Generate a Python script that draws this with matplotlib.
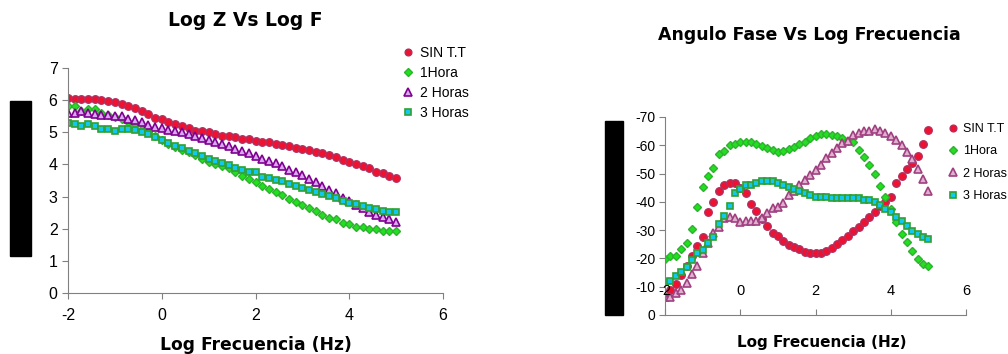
import numpy as np
import matplotlib.pyplot as plt
from matplotlib.patches import Rectangle

plt.rcParams['axes.unicode_minus'] = False
plt.rcParams['font.family'] = ['Liberation Sans', 'DejaVu Sans']

# ---- data ----
log_f = np.arange(50) / 7.0 - 2.0   # 7 points per decade, -2 .. 5

series_names = ['SIN T.T', '1Hora', '2 Horas', '3 Horas']

log_z_sin = [6.07, 6.03, 6.03, 6.03, 6.03, 6.0, 5.97, 5.93, 5.87, 5.82,
             5.75, 5.66, 5.56, 5.45, 5.4, 5.33, 5.26, 5.2, 5.12, 5.05,
             5.05, 5.0, 4.94, 4.9, 4.88, 4.84, 4.8, 4.8, 4.74, 4.7,
             4.7, 4.64, 4.6, 4.57, 4.52, 4.48, 4.44, 4.4, 4.35, 4.3,
             4.24, 4.14, 4.09, 4.02, 3.95, 3.88, 3.77, 3.72, 3.64, 3.57]
log_z_1h = [5.82, 5.82, 5.65, 5.72, 5.72, 5.6, 5.55, 5.48, 5.42, 5.33,
            5.25, 5.1, 5.0, 4.88, 4.76, 4.64, 4.55, 4.46, 4.38, 4.28,
            4.18, 4.08, 4.0, 3.95, 3.88, 3.77, 3.65, 3.55, 3.45, 3.33,
            3.23, 3.15, 3.05, 2.91, 2.84, 2.74, 2.64, 2.55, 2.43, 2.33,
            2.3, 2.19, 2.15, 2.06, 2.04, 1.99, 1.98, 1.93, 1.94, 1.93]
log_z_2h = [5.61, 5.61, 5.66, 5.61, 5.58, 5.55, 5.55, 5.52, 5.52, 5.4,
            5.37, 5.33, 5.23, 5.18, 5.12, 5.07, 5.05, 5.02, 4.94, 4.88,
            4.81, 4.76, 4.69, 4.64, 4.58, 4.48, 4.42, 4.37, 4.26, 4.16,
            4.11, 4.03, 3.95, 3.83, 3.75, 3.67, 3.56, 3.46, 3.33, 3.21,
            3.1, 2.95, 2.85, 2.74, 2.64, 2.53, 2.43, 2.37, 2.29, 2.22]
log_z_3h = [5.3, 5.25, 5.2, 5.25, 5.2, 5.09, 5.09, 5.04, 5.09, 5.09,
            5.07, 5.0, 4.95, 4.84, 4.76, 4.66, 4.58, 4.5, 4.43, 4.35,
            4.25, 4.18, 4.12, 4.03, 3.98, 3.88, 3.83, 3.76, 3.75, 3.62,
            3.57, 3.52, 3.48, 3.38, 3.33, 3.26, 3.2, 3.15, 3.08, 3.03,
            2.95, 2.87, 2.81, 2.77, 2.71, 2.66, 2.6, 2.56, 2.53, 2.53]

fase_sin = [-6.5, -9, -11, -14, -17.5, -21, -24.4, -27.5, -36.4, -40.1,
            -43.7, -46, -46.8, -46.8, -45, -43, -39.2, -36.8, -34, -31.6,
            -29.1, -27.9, -26.3, -24.9, -23.9, -23.2, -22.4, -22, -22, -22,
            -22.5, -23.6, -25.1, -26.5, -27.9, -29.8, -31, -32.8, -34.5, -36.5,
            -38.5, -40, -41.8, -46.8, -49.1, -51.5, -53.6, -56.3, -60.4, -65.4]
fase_1h = [-19.7, -21, -21, -23.2, -25.3, -30.3, -38.3, -45.1, -49.1, -51.8,
           -56.8, -58.1, -60, -60.6, -61, -61, -61, -60.3, -59.7, -59.2,
           -58.5, -57.7, -57.9, -58.6, -59.3, -60.3, -61.3, -62.5, -63.4, -64,
           -64, -63.6, -63.3, -62.5, -61.5, -61, -58.3, -56, -53, -50,
           -45.7, -41.6, -37.5, -33, -28.6, -25.7, -22.7, -19.8, -18, -17.3]
fase_2h = [-6.2, -6.5, -7.9, -8.8, -11.2, -14.4, -17.3, -21.8, -25.5, -28.9,
           -31, -34.2, -34.8, -34.2, -33, -33.3, -33.3, -33.3, -34.2, -35.9,
           -37.7, -38.3, -39.7, -42.4, -43.8, -46, -47.7, -49.5, -51.3, -53,
           -55.4, -57.2, -58.9, -60.7, -61.5, -63.6, -64.4, -65, -65, -65.6,
           -65.1, -64.4, -63.3, -61.9, -60.1, -57.5, -55, -51.5, -48, -43.8]
fase_3h = [-11.5, -12, -13.8, -15.3, -17.1, -19.4, -21.8, -23, -25.3, -27.5,
           -32.2, -35, -38.6, -43, -44.5, -46, -46, -46.6, -47.4, -47.4,
           -47.4, -46.8, -46, -45.1, -44.4, -44, -43.2, -42.4, -41.8, -41.8,
           -41.6, -41.2, -41.2, -41.4, -41.2, -41.2, -41.2, -40.6, -40.6, -40,
           -38.9, -37.5, -36.3, -34.5, -33.2, -31.5, -29.7, -28.5, -27.5, -26.8]

x_ticks = [-2, 0, 2, 4, 6]
z_ticks = [0, 1, 2, 3, 4, 5, 6, 7]
fase_ticks = [0, -10, -20, -30, -40, -50, -60, -70]

# ---- styles ----
left_styles = [
    dict(marker='o', ms=5.4, mfc='#f01030', mec='#b03060', mew=1.0),
    dict(marker='D', ms=4.5, mfc='#20e020', mec='#30b030', mew=1.0),
    dict(marker='^', ms=5.8, mfc='#d8a8f0', mec='#800090', mew=1.2),
    dict(marker='s', ms=4.8, mfc='#10c8f0', mec='#30a030', mew=1.2),
]
right_styles = [
    dict(marker='o', ms=5.4, mfc='#f01030', mec='#b03060', mew=1.0),
    dict(marker='D', ms=4.5, mfc='#20e020', mec='#30b030', mew=1.0),
    dict(marker='^', ms=5.8, mfc='#e0b0d0', mec='#a04080', mew=1.2),
    dict(marker='s', ms=4.8, mfc='#10c8f0', mec='#30a030', mew=1.2),
]

fig = plt.figure(figsize=(10.08, 3.54), dpi=100)

# ============================================================
# Left panel: Log Z vs Log F
# ============================================================
ax1 = fig.add_axes([68 / 1008, 1 - 293 / 354, 375 / 1008, 225 / 354])
for vals, name, st in zip([log_z_sin, log_z_1h, log_z_2h, log_z_3h],
                          series_names, left_styles):
    ax1.plot(log_f, vals, ls='none', label=name, **st)
ax1.set_xlim(-2, 6)
ax1.set_ylim(0, 7)
ax1.set_xticks(x_ticks)
ax1.set_yticks(z_ticks)
ax1.tick_params(labelsize=11.5, length=4, color='#808080')
ax1.tick_params(axis='x', pad=7)
for s in ['top', 'right']:
    ax1.spines[s].set_visible(False)
for s in ['left', 'bottom']:
    ax1.spines[s].set_color('#808080')
ax1.set_xlabel('Log Frecuencia (Hz)', fontsize=12.3, fontweight='bold',
               family='DejaVu Sans', labelpad=9)
ax1.legend(loc='upper left', bbox_to_anchor=(395 / 1008, 1 - 39 / 354),
           bbox_transform=fig.transFigure, frameon=False, fontsize=10,
           handlelength=0.8, handletextpad=0.5, labelspacing=0.44,
           borderpad=0, markerscale=0.9)
fig.text(245 / 1008, 1 - 20 / 354, 'Log Z Vs Log F', ha='center', va='center',
         fontsize=13.5, fontweight='bold', family='DejaVu Sans')

# ============================================================
# Right panel: phase angle vs Log F
# ============================================================
ax2 = fig.add_axes([665 / 1008, 1 - 315 / 354, 301 / 1008, 198 / 354])
for vals, name, st in zip([fase_sin, fase_1h, fase_2h, fase_3h],
                          series_names, right_styles):
    ax2.plot(log_f, vals, ls='none', label=name, **st)
ax2.set_xlim(-2, 6)
ax2.set_ylim(0, -70)
ax2.set_xticks(x_ticks)
ax2.set_yticks(fase_ticks)
ax2.tick_params(axis='y', labelsize=10, length=4, color='#808080', pad=3)
ax2.tick_params(axis='x', labelsize=10.5, length=4, color='#808080',
                direction='in', pad=-22)
ax2.xaxis.set_zorder(5)
for s in ['top', 'right']:
    ax2.spines[s].set_visible(False)
for s in ['left', 'bottom']:
    ax2.spines[s].set_color('#808080')
ax2.set_xlabel('Log Frecuencia (Hz)', fontsize=11, fontweight='bold',
               family='DejaVu Sans', labelpad=14)
ax2.xaxis.set_label_coords(0.52, -0.1)
ax2.xaxis.label.set_va('top')
ax2.legend(loc='upper left', bbox_to_anchor=(942 / 1008, 1 - 117 / 354),
           bbox_transform=fig.transFigure, frameon=False, fontsize=9,
           handlelength=0.8, handletextpad=0.35, labelspacing=0.82,
           borderpad=0, markerscale=0.9)
fig.text(809 / 1008, 1 - 35 / 354, 'Angulo Fase Vs Log Frecuencia',
         ha='center', va='center', fontsize=12.5, fontweight='bold',
         family='DejaVu Sans')

# black boxes over the y-axis titles
fig.patches.append(Rectangle((10 / 1008, 1 - 256 / 354), 21 / 1008, 155 / 354,
                             transform=fig.transFigure, color='black', zorder=5))
fig.patches.append(Rectangle((605 / 1008, 1 - 315 / 354), 18 / 1008, 194 / 354,
                             transform=fig.transFigure, color='black', zorder=5))

fig.savefig('out.png', dpi=100)
